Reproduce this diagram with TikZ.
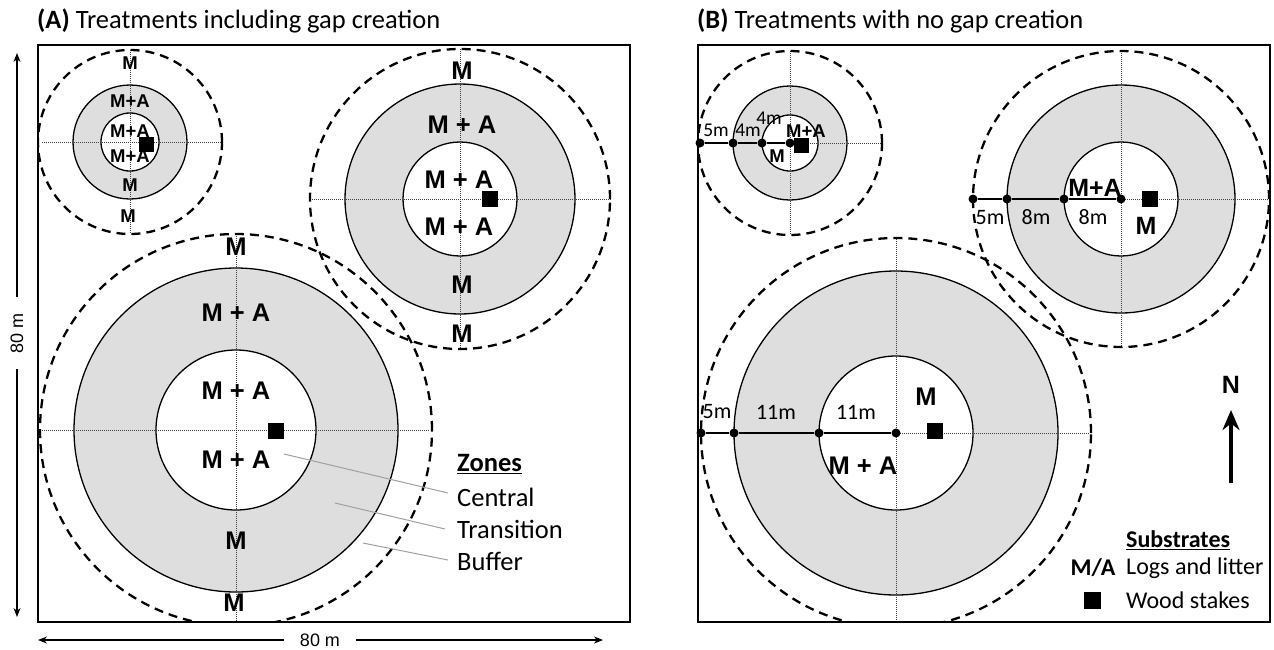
\documentclass[tikz,border=0pt]{standalone}
\usepackage{fontspec}
\setmainfont{Carlito}
\newfontfamily\arialf{Liberation Sans}
\usetikzlibrary{arrows.meta}
\definecolor{zonegray}{RGB}{222,222,222}
\definecolor{leadgray}{RGB}{160,160,160}
\begin{document}
\begin{tikzpicture}[x=1pt,y=-1pt,
  frame/.style={line width=2.8pt},
  buf/.style={line width=2.3pt, dash pattern=on 9pt off 6pt},
  trans/.style={fill=zonegray, draw=black, line width=1.3pt},
  cen/.style={fill=white, draw=black, line width=1.3pt},
  axis/.style={line width=0.7pt, black!75, dash pattern=on 1pt off 1pt},
  lab/.style={font=\arialf\bfseries\fontsize{25.5}{25.5}\selectfont, inner sep=0pt},
  slab/.style={font=\arialf\bfseries\fontsize{18.5}{18.5}\selectfont, inner sep=0pt},
  blab/.style={font=\arialf\bfseries\fontsize{25}{25}\selectfont, inner sep=0pt},
  stake/.style={fill=black, minimum size=#1, inner sep=0pt},
  dimt/.style={font=\fontsize{22}{22}\selectfont, inner sep=0pt},
  sdimt/.style={font=\fontsize{19.5}{19.5}\selectfont, inner sep=0pt},
  mdot/.style={circle, fill=black, inner sep=0pt, minimum size=9pt},
  leg/.style={font=\fontsize{26.5}{26.5}\selectfont, inner sep=0pt, anchor=west},
  title/.style={font=\fontsize{26.5}{26.5}\selectfont, inner sep=0pt, anchor=base west},
  scalet/.style={font=\arialf\fontsize{18}{18}\selectfont, inner sep=16pt},
  meas/.style={line width=1.8pt},
  leader/.style={leadgray, line width=1pt},
  dimarrow/.style={line width=1.2pt, -{Stealth[length=9pt,width=7pt]}}
]
\useasboundingbox (0,0) rectangle (1274,649);
\fill[white] (0,0) rectangle (1274,649);

% ---------------- Titles
\node[title] (titleA) at (37,28) {\textbf{(A)} Treatments including gap creation};
\node[title] (titleB) at (697,28) {\textbf{(B)} Treatments with no gap creation};

% ---------------- Panel A
\begin{scope}
\clip (38,45) rectangle (630,622);
\draw[trans] (130,142) circle[radius=57pt];
\draw[cen] (130,142) circle[radius=29pt];
\draw[trans] (460,199) circle[radius=115pt];
\draw[cen] (460,199) circle[radius=57pt];
\draw[trans] (236,430) circle[radius=162pt];
\draw[cen] (236,430) circle[radius=80pt];
\draw[axis] (42,142) -- (224,142);
\draw[axis] (130,50) -- (130,234);
\draw[axis] (310,199) -- (612,199);
\draw[axis] (460,49) -- (460,349);
\draw[axis] (38,430) -- (430,430);
\draw[axis] (236,234) -- (236,622);
\draw[buf] (130,142) circle[radius=92pt];
\draw[buf] (460,199) circle[radius=150pt];
\draw[buf] (236,430) circle[radius=196pt];
\end{scope}

% labels small A
\node[slab] (as1) at (130,63) {M};
\node[slab] (as2) at (130,101) {M+A};
\node[slab] (as3) at (130,131) {M+A};
\node[slab] (as4) at (130,156) {M+A};
\node[slab] (as5) at (130,185) {M};
\node[slab] (as6) at (128,216) {M};
\node[stake=15pt] (stA1) at (146,144) {};
% labels medium A
\node[lab] (am1) at (462,71) {M};
\node[lab] (am2) at (462,125) {M + A};
\node[lab] (am3) at (459,180) {M + A};
\node[lab] (am4) at (459,227) {M + A};
\node[lab] (am5) at (462,285) {M};
\node[lab] (am6) at (462,334) {M};
\node[stake=16pt] (stA2) at (490,199) {};
% labels large A
\node[lab] (al1) at (236,247) {M};
\node[lab] (al2) at (236,313) {M + A};
\node[lab] (al3) at (236,391) {M + A};
\node[lab] (al4) at (236,460) {M + A};
\node[lab] (al5) at (236,541) {M};
\node[lab] (al6) at (234,603) {M};
\node[stake=16pt] (stA3) at (276,431) {};

% zones legend
\node[leg, font=\fontsize{26.5}{26.5}\selectfont\bfseries] (zones) at (457,464) {\underline{Zones}};
\node[leg] (zc) at (457,497) {Central};
\node[leg] (zt) at (457,529) {Transition};
\node[leg] (zb) at (457,561) {Buffer};
\coordinate (lc) at (284,454);
\coordinate (lt) at (335,503);
\coordinate (lb) at (363,543);
\coordinate (lce) at (448,493);
\coordinate (lte) at (445,529);
\coordinate (lbe) at (448,560);
\draw[leader] (lc) -- (lce);
\draw[leader] (lt) -- (lte);
\draw[leader] (lb) -- (lbe);

\draw[frame] (38,45) rectangle (630,622);

% scale arrows
\node[scalet, rotate=90] (vs) at (17,333) {80 m};
\coordinate (vtop) at (17,53);
\coordinate (vbot) at (17,617);
\draw[dimarrow] (vs.east) -- (vtop);
\draw[dimarrow] (vs.west) -- (vbot);
\node[scalet] (hs) at (320,640) {80 m};
\coordinate (hleft) at (38,640);
\coordinate (hright) at (603,640);
\draw[dimarrow] (hs.west) -- (hleft);
\draw[dimarrow] (hs.east) -- (hright);

% ---------------- Panel B
\begin{scope}
\clip (698,45) rectangle (1270,622);
\draw[trans] (790,143) circle[radius=57pt];
\draw[cen] (790,143) circle[radius=28pt];
\draw[trans] (1121,199) circle[radius=114pt];
\draw[cen] (1121,199) circle[radius=57pt];
\draw[trans] (896,433) circle[radius=162pt];
\draw[cen] (896,433) circle[radius=77pt];
\draw[axis] (790,143) -- (883,143);
\draw[axis] (790,51) -- (790,235);
\draw[axis] (1121,199) -- (1270,199);
\draw[axis] (1121,51) -- (1121,347);
\draw[axis] (896,433) -- (1090,433);
\draw[axis] (896,239) -- (896,622);
\draw[buf] (790,143) circle[radius=92pt];
\draw[buf] (1121,199) circle[radius=148pt];
\draw[buf] (896,433) circle[radius=195pt];
\end{scope}

% measuring lines small B
\node[mdot] (bs0) at (700,143) {};
\node[mdot] (bs1) at (733,143) {};
\node[mdot] (bs2) at (762,143) {};
\node[mdot] (bs3) at (790,143) {};
\draw[meas] (bs0) -- (bs1) -- (bs2) -- (bs3);
\node[sdimt] (bsd1) at (716,130) {5m};
\node[sdimt] (bsd2) at (748,130) {4m};
\node[sdimt] (bsd3) at (769,118) {4m};
\node[slab] (bsl1) at (806,131) {M+A};
\node[slab] (bsl2) at (777,156) {M};
\node[stake=15pt] (stB1) at (801,145) {};

% measuring lines medium B
\node[mdot] (bm0) at (973,199) {};
\node[mdot] (bm1) at (1007,199) {};
\node[mdot] (bm2) at (1064,199) {};
\node[mdot] (bm3) at (1121,199) {};
\draw[meas] (bm0) -- (bm1) -- (bm2) -- (bm3);
\node[dimt] (bmd1) at (990,218) {5m};
\node[dimt] (bmd2) at (1036,217) {8m};
\node[dimt] (bmd3) at (1093,217) {8m};
\node[blab] (bml1) at (1095,188) {M+A};
\node[blab] (bml2) at (1146,226) {M};
\node[stake=16pt] (stB2) at (1150,199) {};

% measuring lines large B
\node[mdot] (bl0) at (701,433) {};
\node[mdot] (bl1) at (734,433) {};
\node[mdot] (bl2) at (819,433) {};
\node[mdot] (bl3) at (896,433) {};
\draw[meas] (bl0) -- (bl1) -- (bl2) -- (bl3);
\node[dimt] (bld1) at (717,412) {5m};
\node[dimt] (bld2) at (776,412) {11m};
\node[dimt] (bld3) at (856,412) {11m};
\node[lab] (bll1) at (926,397) {M};
\node[lab] (bll2) at (863,466) {M + A};
\node[stake=16pt] (stB3) at (935,431) {};

% north arrow
\node[blab] (north) at (1231,385) {N};
\coordinate (nbase) at (1231,483);
\coordinate (ntip) at (1231,410);
\draw[line width=3.5pt, -{Stealth[length=20pt,width=17pt]}] (nbase) -- (ntip);

% substrates legend
\node[leg, font=\fontsize{24}{24}\selectfont\bfseries] (subs) at (1126,540) {\underline{Substrates}};
\node[inner sep=0pt, font=\fontsize{24}{24}\selectfont\bfseries] (ma) at (1093,568) {M/A};
\node[leg, font=\fontsize{24}{24}\selectfont] (logs) at (1126,568) {Logs and litter};
\node[stake=17pt] (legst) at (1092,600) {};
\node[leg, font=\fontsize{24}{24}\selectfont] (wood) at (1126,600) {Wood stakes};

\draw[frame] (698,45) rectangle (1270,622);
\end{tikzpicture}
\end{document}
